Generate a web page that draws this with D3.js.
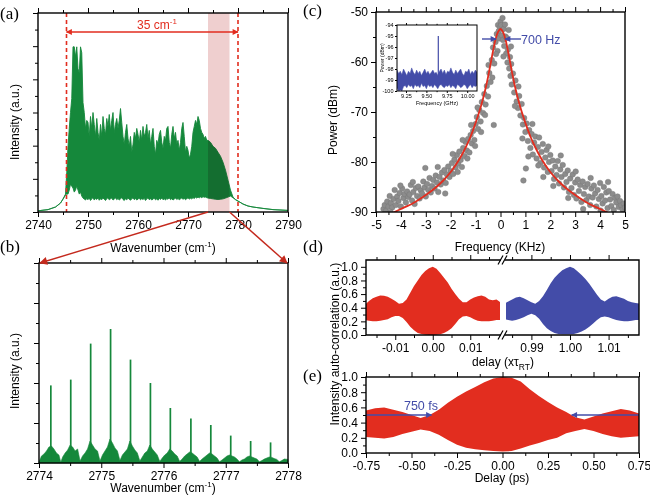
<!DOCTYPE html>
<html>
<head>
<meta charset="utf-8">
<script src="https://cdn.jsdelivr.net/npm/d3@7"></script>
<style>body{margin:0;background:#fff}</style>
</head>
<body>
<script>
// ---------- data ----------
// (a) spectrum envelope: [wavenumber, upper, lower], intensity as fraction of frame height
const specA = [
  [2740,0.006,0.006],[2742,0.012,0.012],[2743.5,0.025,0.025],[2744.5,0.045,0.045],[2745,0.065,0.065],
  [2745.5,0.09,0.085],[2745.75,0.20,0.09],[2746,0.33,0.09],[2746.25,0.42,0.11],[2746.5,0.50,0.14],
  [2746.75,0.57,0.13],[2747,0.83,0.12],[2747.25,0.83,0.10],[2747.5,0.78,0.11],[2747.75,0.83,0.13],
  [2748,0.72,0.11],[2748.25,0.70,0.09],[2748.5,0.83,0.10],[2748.75,0.80,0.08],[2749,0.55,0.07],
  [2749.25,0.50,0.065],[2749.5,0.42,0.06],[2749.75,0.46,0.068],[2750,0.45,0.062],[2750.25,0.38,0.07],
  [2750.5,0.48,0.058],[2750.75,0.42,0.066],[2751,0.50,0.072],[2751.25,0.44,0.06],[2751.5,0.38,0.068],
  [2751.75,0.47,0.063],[2752,0.40,0.071],[2752.25,0.36,0.059],[2752.5,0.44,0.066],[2752.75,0.38,0.062],
  [2753,0.48,0.07],[2753.25,0.42,0.064],[2753.5,0.39,0.058],[2753.75,0.47,0.067],[2754,0.43,0.072],
  [2754.25,0.49,0.061],[2754.5,0.41,0.066],[2754.75,0.46,0.07],[2755,0.50,0.06],[2755.25,0.40,0.065],
  [2755.5,0.44,0.071],[2755.75,0.47,0.062],[2756,0.42,0.068],[2756.25,0.46,0.06],[2756.5,0.52,0.066],
  [2756.75,0.45,0.072],[2757,0.38,0.063],[2757.25,0.34,0.058],[2757.5,0.40,0.067],[2757.75,0.44,0.061],
  [2758,0.37,0.07],[2758.25,0.33,0.064],[2758.5,0.38,0.059],[2758.75,0.30,0.066],[2759,0.34,0.071],
  [2759.25,0.40,0.062],[2759.5,0.37,0.068],[2759.75,0.42,0.06],[2760,0.39,0.065],[2760.25,0.35,0.07],
  [2760.5,0.41,0.061],[2760.75,0.36,0.067],[2761,0.43,0.063],[2761.25,0.38,0.069],[2761.5,0.40,0.058],
  [2761.75,0.44,0.066],[2762,0.37,0.071],[2762.25,0.41,0.062],[2762.5,0.34,0.067],[2762.75,0.38,0.06],
  [2763,0.42,0.065],[2763.25,0.33,0.07],[2763.5,0.29,0.061],[2763.75,0.36,0.066],[2764,0.34,0.059],
  [2764.25,0.39,0.068],[2764.5,0.41,0.063],[2764.75,0.35,0.07],[2765,0.32,0.062],[2765.25,0.38,0.066],
  [2765.5,0.36,0.06],[2765.75,0.42,0.068],[2766,0.43,0.064],[2766.25,0.35,0.071],[2766.5,0.32,0.062],
  [2766.75,0.39,0.067],[2767,0.43,0.06],[2767.25,0.37,0.065],[2767.5,0.40,0.07],[2767.75,0.34,0.063],
  [2768,0.36,0.068],[2768.25,0.31,0.061],[2768.5,0.35,0.066],[2768.75,0.42,0.07],[2769,0.45,0.064],
  [2769.25,0.38,0.068],[2769.5,0.30,0.062],[2769.75,0.33,0.067],[2770,0.31,0.071],[2770.25,0.27,0.065],
  [2770.5,0.29,0.069],[2770.75,0.33,0.066],[2771,0.40,0.072],[2771.25,0.43,0.068],[2771.5,0.46,0.074],
  [2771.75,0.44,0.07],[2772,0.48,0.075],[2772.25,0.46,0.071],[2772.5,0.42,0.076],[2772.75,0.40,0.072],
  [2773,0.39,0.077],[2773.25,0.37,0.074],[2773.5,0.38,0.075],[2773.75,0.36,0.072],[2774,0.36,0.07],
  [2774.5,0.35,0.068],[2775,0.33,0.066],[2775.5,0.32,0.064],[2776,0.30,0.063],[2776.5,0.28,0.064],
  [2777,0.25,0.066],[2777.5,0.21,0.07],[2778,0.16,0.075],[2778.5,0.11,0.08],[2779,0.075,0.072],
  [2779.5,0.062,0.062],[2780,0.055,0.055],[2781,0.04,0.04],[2782,0.03,0.03],[2783,0.025,0.025],
  [2785,0.018,0.018],[2787,0.012,0.012],[2790,0.008,0.008]
];
const bandA = [2774, 2778.3];        // zoomed region
const spanA = [2745.7, 2780];        // 35 cm-1 markers

// (b) comb lines and pedestal
const combPos = [2774.19,2774.51,2774.83,2775.15,2775.47,2775.79,2776.11,2776.44,2776.76,2777.08,2777.40,2777.72];
const combH   = [0.388,0.417,0.597,0.670,0.517,0.400,0.275,0.223,0.190,0.137,0.110,0.103];
const pedB = [
  [2774.00,0.005],[2774.04,0.035],[2774.08,0.045],[2774.12,0.06],[2774.16,0.08],[2774.20,0.085],[2774.24,0.07],
  [2774.28,0.05],[2774.32,0.04],[2774.35,0.004],[2774.38,0.03],[2774.42,0.05],[2774.46,0.065],[2774.50,0.09],
  [2774.54,0.08],[2774.58,0.06],[2774.62,0.07],[2774.66,0.01],[2774.70,0.035],[2774.74,0.05],[2774.78,0.07],
  [2774.82,0.11],[2774.86,0.09],[2774.90,0.07],[2774.94,0.06],[2774.98,0.01],[2775.02,0.04],[2775.06,0.06],
  [2775.10,0.08],[2775.14,0.12],[2775.18,0.10],[2775.22,0.075],[2775.26,0.06],[2775.30,0.012],[2775.34,0.04],
  [2775.38,0.055],[2775.42,0.07],[2775.46,0.11],[2775.50,0.085],[2775.54,0.065],[2775.58,0.05],[2775.62,0.01],
  [2775.66,0.03],[2775.70,0.05],[2775.74,0.06],[2775.78,0.09],[2775.82,0.07],[2775.86,0.055],[2775.90,0.04],
  [2775.94,0.008],[2775.98,0.025],[2776.02,0.04],[2776.06,0.05],[2776.10,0.07],[2776.14,0.06],[2776.18,0.045],
  [2776.22,0.035],[2776.26,0.008],[2776.30,0.02],[2776.34,0.035],[2776.38,0.045],[2776.42,0.055],[2776.46,0.05],
  [2776.50,0.04],[2776.54,0.03],[2776.58,0.008],[2776.62,0.02],[2776.66,0.03],[2776.70,0.04],[2776.74,0.05],
  [2776.78,0.045],[2776.82,0.035],[2776.86,0.025],[2776.90,0.006],[2776.94,0.015],[2776.98,0.025],[2777.02,0.035],
  [2777.06,0.04],[2777.10,0.035],[2777.14,0.03],[2777.18,0.02],[2777.22,0.006],[2777.26,0.015],[2777.30,0.02],
  [2777.34,0.03],[2777.38,0.035],[2777.42,0.03],[2777.46,0.025],[2777.50,0.02],[2777.54,0.006],[2777.58,0.012],
  [2777.62,0.02],[2777.66,0.025],[2777.70,0.03],[2777.74,0.028],[2777.78,0.022],[2777.82,0.018],[2777.86,0.006],
  [2777.90,0.012],[2777.94,0.02],[2778.00,0.018]
];

// (c) beat note: measured points [kHz, dBm] and fitted curve
const beatPts = [
  [-4.7,-89.4],[-4.65,-88.6],[-4.6,-89.8],[-4.55,-87.9],[-4.5,-88.9],[-4.45,-86.8],[-4.4,-88.2],[-4.35,-89.1],
  [-4.3,-87.4],[-4.25,-85.6],[-4.2,-88.6],[-4.15,-86.9],[-4.1,-87.8],[-4.05,-86.2],[-4.0,-88.9],[-3.95,-85.3],
  [-3.9,-87.2],[-3.85,-86.4],[-3.8,-88.1],[-3.75,-85.9],[-3.7,-87.0],[-3.65,-86.5],[-3.6,-84.6],[-3.55,-87.7],
  [-3.5,-86.0],[-3.45,-88.4],[-3.4,-85.2],[-3.35,-86.8],[-3.3,-84.9],[-3.25,-87.3],[-3.2,-85.7],[-3.15,-86.3],
  [-3.1,-83.9],[-3.05,-85.1],[-3.0,-86.9],[-2.95,-84.4],[-2.9,-85.6],[-2.85,-83.2],[-2.8,-86.1],[-2.75,-84.8],
  [-2.7,-83.6],[-2.65,-85.3],[-2.6,-82.7],[-2.55,-84.1],[-2.5,-86.0],[-2.45,-83.0],[-2.4,-84.5],[-2.35,-82.1],
  [-2.3,-83.7],[-2.25,-81.6],[-2.2,-84.2],[-2.15,-82.5],[-2.1,-80.9],[-2.05,-83.0],[-2.0,-81.8],
  [-3.02,-81.2],[-3.52,-84.0],[-4.02,-84.7],[-2.52,-81.0],[-4.42,-90.0],[-2.22,-86.3],
  [-1.95,-80.2],[-1.9,-82.4],[-1.85,-79.5],[-1.8,-81.1],[-1.75,-78.6],[-1.7,-80.3],[-1.65,-77.9],[-1.6,-79.6],
  [-1.55,-81.0],[-1.5,-77.2],[-1.45,-78.8],[-1.4,-76.0],[-1.35,-77.7],[-1.3,-75.4],[-1.25,-78.1],[-1.2,-74.6],
  [-1.15,-76.3],[-1.1,-73.8],[-1.05,-75.6],[-1.0,-72.4],
  [-1.92,-78.4],[-1.72,-82.0],[-1.52,-75.6],[-1.33,-79.3],[-1.18,-72.6],[-1.02,-76.8],
  [-0.95,-71.0],[-0.9,-73.4],[-0.85,-69.6],[-0.8,-71.9],[-0.75,-68.0],[-0.7,-70.2],[-0.65,-66.4],[-0.6,-68.5],
  [-0.55,-64.8],[-0.5,-66.9],[-0.45,-62.2],[-0.4,-64.0],[-0.35,-59.6],[-0.3,-57.1],[-0.27,-72.6],[-0.25,-60.3],
  [-0.2,-56.0],[-0.15,-54.4],[-0.12,-57.8],[-0.1,-52.6],[-0.05,-55.3],[-0.02,-53.0],[0.0,-51.9],
  [-0.92,-69.1],[-0.78,-74.0],[-0.62,-70.6],[-0.48,-60.6],[-0.33,-63.1],[-0.18,-58.4],[-0.07,-53.8],
  [0.03,-52.6],[0.05,-54.7],[0.08,-51.2],[0.1,-55.6],[0.13,-53.4],[0.15,-56.8],[0.18,-52.5],[0.2,-54.9],
  [0.23,-58.3],[0.25,-55.2],[0.28,-60.1],[0.3,-57.5],[0.33,-53.6],[0.35,-61.3],[0.38,-59.0],[0.4,-62.8],
  [0.43,-60.4],[0.45,-64.5],[0.5,-62.3],[0.55,-66.1],[0.6,-63.7],[0.65,-67.9],[0.7,-69.2],[0.75,-66.8],
  [0.8,-70.7],[0.85,-68.4],[0.9,-72.5],[0.92,-83.7],[0.95,-71.2],[1.0,-74.0],[1.02,-81.3],
  [0.12,-58.9],[0.42,-56.9],[0.58,-68.8],[0.72,-64.9],[0.88,-75.3],
  [1.05,-72.3],[1.1,-75.8],[1.15,-73.6],[1.2,-77.2],[1.25,-74.4],[1.3,-78.5],[1.35,-76.1],[1.4,-74.9],
  [1.45,-79.3],[1.5,-77.0],[1.55,-75.1],[1.6,-80.2],[1.65,-78.0],[1.7,-76.4],[1.75,-81.1],[1.8,-79.1],
  [1.85,-77.6],[1.9,-82.0],[1.95,-80.0],[2.0,-78.6],
  [1.12,-78.9],[1.28,-72.4],[1.52,-80.7],[1.72,-83.0],[1.92,-76.9],
  [2.05,-81.8],[2.1,-79.7],[2.15,-83.4],[2.2,-80.9],[2.25,-82.6],[2.3,-79.8],[2.35,-84.3],[2.4,-81.5],
  [2.45,-83.0],[2.5,-80.6],[2.55,-85.1],[2.6,-82.4],[2.65,-84.0],[2.7,-81.7],[2.75,-86.0],[2.8,-83.3],
  [2.85,-85.2],[2.9,-82.5],[2.95,-86.6],[3.0,-84.1],[3.05,-87.3],[3.1,-83.5],[3.15,-85.8],[3.2,-84.6],
  [3.25,-88.0],[3.3,-83.9],[3.35,-86.4],[3.4,-85.0],[3.45,-87.6],[3.5,-84.4],[3.55,-86.9],[3.6,-88.6],
  [3.65,-85.3],[3.7,-87.1],[3.75,-84.7],[3.8,-86.3],[3.85,-88.9],[3.9,-85.6],[3.95,-87.4],[4.0,-84.2],
  [4.05,-86.8],[4.1,-88.3],[4.15,-85.0],[4.2,-87.7],[4.25,-86.1],[4.3,-89.2],[4.35,-85.8],[4.4,-87.5],
  [4.45,-88.8],[4.5,-86.4],[4.55,-89.6],[4.6,-87.2],[4.65,-88.1],[4.7,-86.9],[4.75,-89.0],[4.8,-87.8],
  [4.85,-88.7],[4.9,-89.5],[4.95,-88.3],[5.0,-89.1],
  [2.12,-84.8],[2.42,-78.7],[2.72,-87.2],[3.02,-81.9],[3.32,-89.4],[3.62,-83.2],[4.02,-89.7],[4.32,-84.0]
];
const beatFit = [
  [-4.3,-90.1],[-4.0,-89.4],[-3.5,-88.2],[-3.0,-86.6],[-2.6,-85.1],[-2.3,-83.7],[-2.0,-82.0],[-1.8,-80.6],
  [-1.6,-79.0],[-1.4,-77.1],[-1.2,-74.9],[-1.0,-72.2],[-0.9,-70.7],[-0.8,-69.1],[-0.7,-67.3],[-0.6,-65.3],
  [-0.5,-63.0],[-0.4,-60.4],[-0.3,-57.8],[-0.2,-55.5],[-0.1,-54.0],[0,-53.4],[0.1,-54.0],[0.2,-55.5],
  [0.3,-57.8],[0.4,-60.4],[0.5,-63.0],[0.6,-65.3],[0.7,-67.3],[0.8,-69.1],[0.9,-70.7],[1.0,-72.2],
  [1.2,-74.9],[1.4,-77.1],[1.6,-79.0],[1.8,-80.6],[2.0,-82.0],[2.3,-83.7],[2.6,-85.1],[3.0,-86.6],
  [3.5,-88.2],[4.0,-89.4],[4.3,-90.1]
];
// inset: RF spectrum noise band [GHz, upper, lower] and the beat-note spike
const rfBand = [
  [9.14,-98.1,-99.7],[9.16,-98.4,-100.0],[9.18,-98.2,-99.9],[9.20,-98.5,-100.0],[9.22,-98.0,-99.6],
  [9.24,-98.3,-99.5],[9.26,-98.6,-99.7],[9.28,-98.2,-99.4],[9.30,-98.4,-99.6],[9.32,-97.9,-99.5],
  [9.34,-98.3,-99.8],[9.36,-98.5,-99.4],[9.38,-98.1,-99.6],[9.40,-98.4,-99.5],[9.42,-98.2,-99.7],
  [9.44,-98.6,-99.3],[9.46,-98.3,-99.6],[9.48,-98.0,-99.5],[9.50,-98.4,-99.8],[9.52,-98.2,-99.4],
  [9.54,-98.5,-99.6],[9.56,-98.3,-99.5],[9.58,-98.1,-99.7],[9.60,-98.4,-99.4],[9.62,-98.3,-99.6],
  [9.64,-98.6,-99.8],[9.66,-98.2,-99.5],[9.68,-98.0,-99.4],[9.70,-98.4,-99.6],[9.72,-98.1,-99.7],
  [9.74,-98.5,-99.5],[9.76,-98.2,-99.6],[9.78,-98.3,-99.4],[9.80,-97.9,-99.7],[9.82,-98.3,-99.5],
  [9.84,-98.5,-99.6],[9.86,-98.1,-99.8],[9.88,-98.4,-99.4],[9.90,-98.2,-99.5],[9.92,-98.0,-99.7],
  [9.94,-98.4,-99.6],[9.96,-98.6,-99.4],[9.98,-98.2,-99.5],[10.00,-98.3,-99.8],[10.02,-98.0,-99.6],
  [10.04,-98.5,-99.4],[10.06,-98.2,-99.7],[10.08,-98.4,-99.5],[10.10,-98.1,-99.6],[10.12,-98.3,-99.5]
];
const rfSpike = [9.646, -95.0];

// (d) autocorrelation envelopes [delay, upper, lower]
const acRed = [
  [-0.018,0.45,0.22],[-0.017,0.50,0.21],[-0.016,0.54,0.20],[-0.015,0.56,0.20],[-0.014,0.58,0.21],
  [-0.013,0.575,0.22],[-0.012,0.56,0.23],[-0.011,0.53,0.26],[-0.010,0.50,0.28],[-0.009,0.46,0.28],
  [-0.008,0.47,0.25],[-0.007,0.52,0.19],[-0.006,0.62,0.12],[-0.005,0.72,0.07],[-0.004,0.80,0.03],
  [-0.003,0.88,0.015],[-0.002,0.94,0.005],[-0.001,0.98,0.0],[0.000,1.00,0.0],[0.001,0.97,0.005],
  [0.002,0.91,0.01],[0.003,0.84,0.03],[0.004,0.77,0.06],[0.005,0.68,0.10],[0.006,0.60,0.16],
  [0.007,0.53,0.23],[0.008,0.48,0.27],[0.009,0.48,0.28],[0.010,0.52,0.26],[0.011,0.55,0.23],
  [0.012,0.57,0.21],[0.013,0.58,0.20],[0.014,0.56,0.20],[0.015,0.52,0.20],[0.016,0.51,0.21],
  [0.017,0.52,0.22],[0.018,0.48,0.22]
];
const acBlue = [
  [0.983,0.46,0.23],[0.984,0.49,0.22],[0.985,0.52,0.21],[0.986,0.55,0.22],[0.987,0.56,0.24],
  [0.988,0.54,0.26],[0.989,0.51,0.29],[0.990,0.48,0.31],[0.991,0.46,0.29],[0.992,0.50,0.24],
  [0.993,0.57,0.16],[0.994,0.66,0.10],[0.995,0.76,0.06],[0.996,0.84,0.03],[0.997,0.90,0.015],
  [0.998,0.95,0.01],[0.999,0.98,0.01],[1.000,1.00,0.01],[1.001,0.98,0.015],[1.002,0.93,0.03],
  [1.003,0.88,0.05],[1.004,0.82,0.08],[1.005,0.75,0.12],[1.006,0.67,0.17],[1.007,0.59,0.22],
  [1.008,0.52,0.26],[1.009,0.49,0.27],[1.010,0.53,0.26],[1.011,0.56,0.24],[1.012,0.57,0.22],
  [1.013,0.55,0.21],[1.014,0.53,0.20],[1.015,0.50,0.20],[1.016,0.48,0.21],[1.017,0.47,0.22],
  [1.018,0.46,0.22]
];
// (e) autocorrelation envelope [ps, upper, lower]
const acPs = [
  [-0.75,0.56,0.21],[-0.70,0.59,0.20],[-0.65,0.60,0.19],[-0.60,0.57,0.21],[-0.55,0.54,0.25],
  [-0.50,0.50,0.28],[-0.45,0.46,0.31],[-0.40,0.50,0.29],[-0.35,0.57,0.24],[-0.30,0.66,0.17],
  [-0.25,0.74,0.11],[-0.20,0.81,0.07],[-0.15,0.87,0.05],[-0.10,0.93,0.035],[-0.05,0.98,0.025],
  [0.00,1.00,0.02],[0.05,0.99,0.025],[0.10,0.94,0.06],[0.15,0.84,0.10],[0.20,0.75,0.13],
  [0.25,0.67,0.17],[0.30,0.60,0.20],[0.35,0.54,0.26],[0.40,0.47,0.29],[0.45,0.44,0.315],
  [0.50,0.48,0.29],[0.55,0.52,0.25],[0.60,0.55,0.22],[0.65,0.58,0.20],[0.70,0.56,0.21],
  [0.75,0.52,0.22]
];
const fwhmPs = [-0.39, 0.38];

// tick values
const ticksA = [2740,2750,2760,2770,2780,2790];
const ticksB = [2774,2775,2776,2777,2778];
const ticksCx = [-5,-4,-3,-2,-1,0,1,2,3,4,5];
const ticksCy = [-90,-80,-70,-60,-50];
const ticksInY = [-100,-99,-98,-97,-96,-95,-94];
const ticksInX = [9.25,9.5,9.75,10.0];
const ticksDL = [-0.01,0,0.01];
const ticksDR = [0.99,1.0,1.01];
const ticksAC = [0,0.2,0.4,0.6,0.8,1.0];
const ticksE = [-0.75,-0.5,-0.25,0,0.25,0.5,0.75];

// ---------- drawing ----------
const GREEN = "#15883b", RED = "#e22d1f", BLUE = "#434ca8", DRED = "#c4291d";
const sans = "'Liberation Sans', Arial, Helvetica, sans-serif";
const serif = "'Liberation Serif', 'Times New Roman', serif";
const svg = d3.select("body").append("svg").attr("width", 650).attr("height", 496)
  .style("font-family", sans);
const defs = svg.append("defs");

function marker(id, color, w, h) {
  defs.append("marker").attr("id", id).attr("viewBox", "0 0 10 10")
    .attr("refX", 9).attr("refY", 5).attr("markerWidth", w).attr("markerHeight", h)
    .attr("markerUnits", "userSpaceOnUse").attr("orient", "auto-start-reverse")
    .append("path").attr("d", "M0,0L10,5L0,10z").attr("fill", color);
}
marker("mRed", RED, 7, 6);
marker("mDark", DRED, 10, 8);
marker("mBlue", BLUE, 8, 6);

function clip(id, x0, y0, x1, y1) {
  defs.append("clipPath").attr("id", id).append("rect")
    .attr("x", x0).attr("y", y0).attr("width", x1 - x0).attr("height", y1 - y0);
}
const hy = f => d => f(d).replace("\u2212", "-");
const mids = v => v.slice(1).map((d, i) => (d + v[i]) / 2);

function clean(s, fs) {
  s.select(".domain").remove();
  s.attr("font-family", null).attr("font-size", fs);
  s.selectAll("line").attr("stroke-width", 1);
}
function axes(g, x, y, o) {
  const [x0, x1] = x.range(), [y0, y1] = y.range();
  const fs = o.fs || 12, M = o.major || 5, m = o.minor || 3;
  const xm = o.xMinor || mids(o.xMajor), ym = o.yMinor || mids(o.yMajor);
  g.append("g").attr("transform", `translate(${x0},0)`)
    .call(d3.axisLeft(y).tickValues(ym).tickSize(m).tickFormat("")).call(clean, fs);
  g.append("g").attr("transform", `translate(${x0},0)`)
    .call(d3.axisLeft(y).tickValues(o.yMajor).tickSize(M).tickPadding(o.pad || 3)
      .tickFormat(o.yFmt || (() => ""))).call(clean, fs);
  [[d3.axisBottom, y0, o.xFmt], [d3.axisTop, y1, null]].forEach(([ax, yy, f]) => {
    g.append("g").attr("transform", `translate(0,${yy})`)
      .call(ax(x).tickValues(xm).tickSize(m).tickFormat("")).call(clean, fs);
    g.append("g").attr("transform", `translate(0,${yy})`)
      .call(ax(x).tickValues(o.xMajor).tickSize(M).tickPadding(o.pad || 3)
        .tickFormat(f || (() => ""))).call(clean, fs);
  });
  g.append("rect").attr("x", x0).attr("y", y1).attr("width", x1 - x0).attr("height", y0 - y1)
    .attr("fill", "none").attr("stroke", "#000").attr("stroke-width", o.fw || 1.4);
}
function label(x, y, t) {
  svg.append("text").attr("x", x).attr("y", y).attr("font-family", serif)
    .attr("font-size", 17).text(t);
}
function vlabel(x, y, t, fs) {
  svg.append("text").attr("transform", `translate(${x},${y}) rotate(-90)`)
    .attr("text-anchor", "middle").attr("font-size", fs || 12).text(t);
}

// ----- (a) -----
const xA = d3.scaleLinear().domain([2740, 2790]).range([38, 288]);
const yA = d3.scaleLinear().domain([0, 1]).range([212, 13]);
clip("cA", 38, 13, 288, 212);
const gA = svg.append("g");
gA.append("path").datum(specA).attr("clip-path", "url(#cA)")
  .attr("d", d3.area().x(d => xA(d[0])).y0(d => yA(d[2])).y1(d => yA(d[1])))
  .attr("fill", GREEN).attr("stroke", GREEN).attr("stroke-width", 0.9);
gA.append("rect").attr("x", xA(bandA[0])).attr("y", 13)
  .attr("width", xA(bandA[1]) - xA(bandA[0])).attr("height", 199)
  .attr("fill", "#efcfcf").style("mix-blend-mode", "multiply");
spanA.forEach(v => gA.append("line").attr("x1", xA(v)).attr("x2", xA(v)).attr("y1", 13).attr("y2", 212)
  .attr("stroke", RED).attr("stroke-width", 1.6).attr("stroke-dasharray", "4,3"));
gA.append("line").attr("x1", xA(spanA[0])).attr("x2", xA(spanA[1])).attr("y1", 32).attr("y2", 32)
  .attr("stroke", RED).attr("stroke-width", 1.3)
  .attr("marker-start", "url(#mRed)").attr("marker-end", "url(#mRed)");
const t35 = gA.append("text").attr("x", 157).attr("y", 29).attr("text-anchor", "middle")
  .attr("fill", RED).attr("font-size", 12);
t35.append("tspan").text("35 cm");
t35.append("tspan").attr("dy", -5).attr("font-size", 8).text("-1");
axes(gA, xA, yA, {xMajor: ticksA, yMajor: d3.range(7).map(k => k / 6), xFmt: d => d});
label(0, 19, "(a)");
vlabel(19, 122, "Intensity (a.u.)");
const tA = svg.append("text").attr("x", 163).attr("y", 252).attr("text-anchor", "middle").attr("font-size", 12);
tA.append("tspan").text("Wavenumber (cm");
tA.append("tspan").attr("dy", -5).attr("font-size", 8).text("-1");
tA.append("tspan").attr("dy", 5).text(")");

// ----- (b) -----
const xB = d3.scaleLinear().domain([2774, 2778]).range([39, 288]);
const yB = d3.scaleLinear().domain([0, 1]).range([463, 263]);
const gB = svg.append("g");
gB.append("path").datum(pedB)
  .attr("d", d3.area().x(d => xB(d[0])).y0(yB(0)).y1(d => yB(d[1])))
  .attr("fill", GREEN).attr("stroke", GREEN).attr("stroke-width", 0.6);
gB.selectAll("line.comb").data(combPos).join("line").attr("class", "comb")
  .attr("x1", d => xB(d)).attr("x2", d => xB(d)).attr("y1", yB(0))
  .attr("y2", (d, i) => yB(combH[i])).attr("stroke", GREEN).attr("stroke-width", 1.7);
axes(gB, xB, yB, {xMajor: ticksB, yMajor: d3.range(6).map(k => k / 5), xFmt: d => d});
label(0, 252, "(b)");
vlabel(19, 371, "Intensity (a.u.)");
const tB = svg.append("text").attr("x", 163).attr("y", 492).attr("text-anchor", "middle").attr("font-size", 12);
tB.append("tspan").text("Wavenumber (cm");
tB.append("tspan").attr("dy", -5).attr("font-size", 8).text("-1");
tB.append("tspan").attr("dy", 5).text(")");
// zoom connectors
svg.append("line").attr("x1", xA(bandA[0])).attr("y1", 212).attr("x2", 40).attr("y2", 263)
  .attr("stroke", DRED).attr("stroke-width", 1.4).attr("marker-end", "url(#mDark)");
svg.append("line").attr("x1", xA(bandA[1])).attr("y1", 212).attr("x2", 287).attr("y2", 263)
  .attr("stroke", DRED).attr("stroke-width", 1.4).attr("marker-end", "url(#mDark)");

// ----- (c) -----
const xC = d3.scaleLinear().domain([-5, 5]).range([376, 625]);
const yC = d3.scaleLinear().domain([-90, -50]).range([212, 12]);
clip("cC", 376, 12, 625, 212);
const gC = svg.append("g");
gC.append("g").attr("clip-path", "url(#cC)").selectAll("circle").data(beatPts).join("circle")
  .attr("cx", d => xC(d[0])).attr("cy", d => yC(d[1])).attr("r", 2.8)
  .attr("fill", "#8c8c8c").attr("stroke", "#757575").attr("stroke-width", 0.4);
gC.append("path").datum(beatFit).attr("clip-path", "url(#cC)")
  .attr("d", d3.line().x(d => xC(d[0])).y(d => yC(d[1])).curve(d3.curveCatmullRom))
  .attr("fill", "none").attr("stroke", RED).attr("stroke-width", 1.8);
axes(gC, xC, yC, {xMajor: ticksCx, xMinor: mids(ticksCx), yMajor: ticksCy,
  xFmt: d => String(d), yFmt: d => String(d)});
label(303, 16, "(c)");
vlabel(337, 120, "Power (dBm)");
svg.append("text").attr("x", 500).attr("y", 251).attr("text-anchor", "middle")
  .attr("font-size", 12).text("Frequency (KHz)");
// linewidth annotation
svg.append("line").attr("x1", 482).attr("x2", 496).attr("y1", 39).attr("y2", 39)
  .attr("stroke", BLUE).attr("stroke-width", 1.4).attr("marker-end", "url(#mBlue)");
svg.append("line").attr("x1", 521).attr("x2", 505).attr("y1", 39).attr("y2", 39)
  .attr("stroke", BLUE).attr("stroke-width", 1.4).attr("marker-end", "url(#mBlue)");
svg.append("text").attr("x", 521).attr("y", 43.5).attr("fill", BLUE).attr("font-size", 12.5).text("700 Hz");

// inset
const xI = d3.scaleLinear().domain([9.14, 10.12]).range([397, 477]);
const yI = d3.scaleLinear().domain([-100, -94]).range([91, 25]);
clip("cI", 397, 25, 477, 91);
const gI = svg.append("g");
gI.append("rect").attr("x", 397).attr("y", 25).attr("width", 80).attr("height", 66).attr("fill", "#fff");
gI.append("path").datum(rfBand).attr("clip-path", "url(#cI)")
  .attr("d", d3.area().x(d => xI(d[0])).y0(d => yI(d[2])).y1(d => yI(d[1])))
  .attr("fill", BLUE).attr("stroke", BLUE).attr("stroke-width", 0.5);
gI.append("line").attr("x1", xI(rfSpike[0])).attr("x2", xI(rfSpike[0]))
  .attr("y1", yI(-98.8)).attr("y2", yI(rfSpike[1])).attr("stroke", BLUE).attr("stroke-width", 1.2);
axes(gI, xI, yI, {xMajor: ticksInX, yMajor: ticksInY, yMinor: [], fs: 5.5, major: 2, minor: 1.2,
  pad: 1.5, fw: 1, xFmt: d3.format(".2f"), yFmt: d => String(d)});
vlabel(384, 58, "Power (dBm)", 5);
svg.append("text").attr("x", 437).attr("y", 104.5).attr("text-anchor", "middle")
  .attr("font-size", 5.5).text("Frequency (GHz)");

// ----- (d) -----
const yD = d3.scaleLinear().domain([0, 1.1]).range([335, 260]);
const xDL = d3.scaleLinear().domain([-0.0178, 0.0182]).range([366, 501]);
const xDR = d3.scaleLinear().domain([0.98316, 1.01788]).range([505, 639]);
clip("cDL", 366, 260, 500, 335);
clip("cDR", 506, 260, 639, 335);
const gD = svg.append("g");
gD.append("path").datum(acRed).attr("clip-path", "url(#cDL)")
  .attr("d", d3.area().x(d => xDL(d[0])).y0(d => yD(d[2])).y1(d => yD(d[1])))
  .attr("fill", RED);
gD.append("path").datum(acBlue).attr("clip-path", "url(#cDR)")
  .attr("d", d3.area().x(d => xDR(d[0])).y0(d => yD(d[2])).y1(d => yD(d[1])))
  .attr("fill", BLUE);
const f2 = hy(d3.format(".2f")), f1 = d3.format(".1f");
gD.append("g").attr("transform", "translate(366,0)")
  .call(d3.axisLeft(yD).tickValues(mids(ticksAC)).tickSize(3).tickFormat("")).call(clean, 12);
gD.append("g").attr("transform", "translate(366,0)")
  .call(d3.axisLeft(yD).tickValues(ticksAC).tickSize(5).tickFormat(f1)).call(clean, 12);
[[xDL, ticksDL], [xDR, ticksDR]].forEach(([sc, tv]) => {
  const mn = [tv[0] - 0.005, ...mids(tv), tv[2] + 0.005];
  [[d3.axisBottom, 335, f2], [d3.axisTop, 260, () => ""]].forEach(([ax, yy, f]) => {
    gD.append("g").attr("transform", `translate(0,${yy})`)
      .call(ax(sc).tickValues(mn).tickSize(3).tickFormat("")).call(clean, 12);
    gD.append("g").attr("transform", `translate(0,${yy})`)
      .call(ax(sc).tickValues(tv).tickSize(5).tickFormat(f)).call(clean, 12);
  });
});
gD.append("path").attr("d", "M501,260H366V335H501M505,260H639V335H505")
  .attr("fill", "none").attr("stroke", "#000").attr("stroke-width", 1.4);
[260, 335].forEach(yy => [0, 4].forEach(dx => gD.append("line")
  .attr("x1", 498 + dx).attr("y1", yy + 4.5).attr("x2", 503 + dx).attr("y2", yy - 4.5)
  .attr("stroke", "#000").attr("stroke-width", 1.2)));
label(303, 252, "(d)");
const tD = svg.append("text").attr("x", 503).attr("y", 366).attr("text-anchor", "middle").attr("font-size", 12);
tD.append("tspan").text("delay (x\u03C4");
tD.append("tspan").attr("dy", 3.5).attr("font-size", 8.5).text("RT");
tD.append("tspan").attr("dy", -3.5).text(")");

// ----- (e) -----
const xE = d3.scaleLinear().domain([-0.75, 0.75]).range([366, 639]);
const yE = d3.scaleLinear().domain([0, 1]).range([453, 377]);
const gE = svg.append("g");
gE.append("path").datum(acPs)
  .attr("d", d3.area().x(d => xE(d[0])).y0(d => yE(d[2])).y1(d => yE(d[1])))
  .attr("fill", RED);
gE.append("line").attr("x1", xE(-0.75)).attr("x2", xE(fwhmPs[0])).attr("y1", yE(0.5)).attr("y2", yE(0.5))
  .attr("stroke", BLUE).attr("stroke-width", 1.5).attr("marker-end", "url(#mBlue)");
gE.append("line").attr("x1", xE(0.75)).attr("x2", xE(fwhmPs[1])).attr("y1", yE(0.5)).attr("y2", yE(0.5))
  .attr("stroke", BLUE).attr("stroke-width", 1.5).attr("marker-end", "url(#mBlue)");
gE.append("text").attr("x", 421).attr("y", 410).attr("text-anchor", "middle")
  .attr("fill", BLUE).attr("font-size", 12.5).text("750 fs");
axes(gE, xE, yE, {xMajor: ticksE, yMajor: ticksAC, xFmt: f2, yFmt: f1});
label(303, 381, "(e)");
svg.append("text").attr("x", 502).attr("y", 482).attr("text-anchor", "middle")
  .attr("font-size", 12).text("Delay (ps)");
vlabel(339, 344, "Intensity auto-correlation (a.u.)");
</script>
</body>
</html>
